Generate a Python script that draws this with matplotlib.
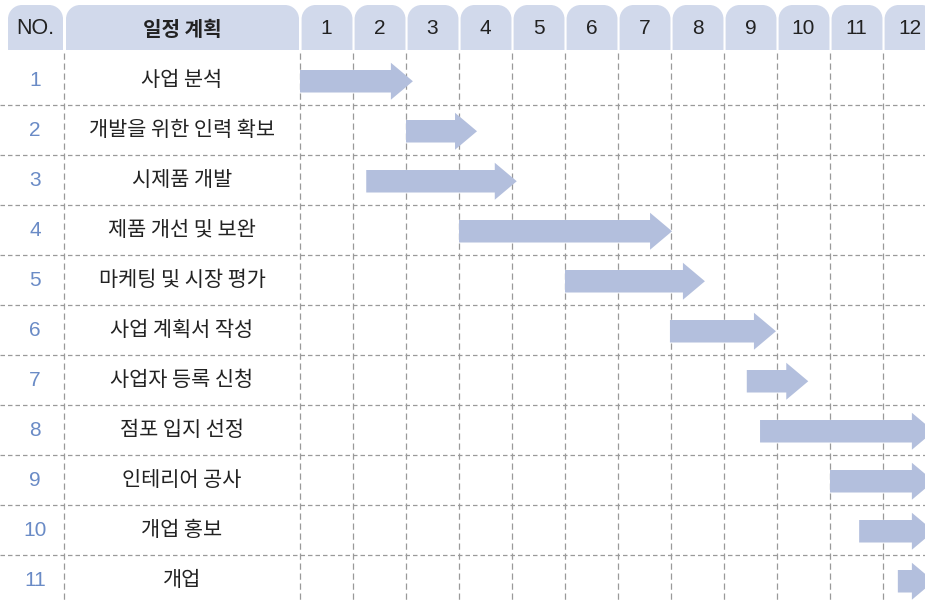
import matplotlib
matplotlib.use('Agg')
import matplotlib.pyplot as plt
from matplotlib.path import Path
from matplotlib.patches import PathPatch, FancyArrow

# ---------------- data ----------------
months = [str(i) for i in range(1, 13)]
task_no = [str(i) for i in range(1, 12)]
tasks = ['사업 분석', '개발을 위한 인력 확보', '시제품 개발', '제품 개선 및 보완',
         '마케팅 및 시장 평가', '사업 계획서 작성', '사업자 등록 신청',
         '점포 입지 선정', '인테리어 공사', '개업 홍보', '개업']
# start / end (arrow tip) in months from the start of month 1
start = [0.0, 2.0, 1.25, 3.0, 5.0, 6.98, 8.43, 8.68, 10.0, 10.55, 11.28]
end = [2.13, 3.34, 4.09, 7.02, 7.64, 8.98, 9.59, 11.96, 11.96, 11.96, 11.96]
header_no = 'NO.'
header_task = '일정 계획'

# ---------------- style ----------------
plt.rcParams['font.family'] = ['Liberation Sans', 'Noto Sans CJK KR', 'DejaVu Sans']
KFONT = ['Noto Sans CJK KR', 'DejaVu Sans']
TAB = '#d1d9eb'
ARROW = '#b3bfdd'
BLUE = '#6a8bc6'
GRID = '#9a9a9a'
TXT = '#222222'

W, H = 925, 602
COL = 53.0   # px per month
ROW = 50.0   # px per row
X0 = 300.0   # px where month grid begins
Y0 = 29.5    # px of row "0" center

def xu(px):
    return (px - X0) / COL

def yu(py):
    return (py - Y0) / ROW

fig = plt.figure(figsize=(W / 100, H / 100), dpi=100)
ax = fig.add_axes([0, 0, 1, 1])
ax.set_xlim(xu(0), xu(W))
ax.set_ylim(yu(H), yu(0))
ax.axis('off')

def tab(x0, x1, yt, yb, r=14.0):
    rx, ry = r / COL, r / ROW
    k = 0.5523
    verts = [(x0, yb), (x0, yt + ry),
             (x0, yt + ry - k * ry), (x0 + rx - k * rx, yt), (x0 + rx, yt),
             (x1 - rx, yt),
             (x1 - rx + k * rx, yt), (x1, yt + ry - k * ry), (x1, yt + ry),
             (x1, yb), (x0, yb)]
    codes = [Path.MOVETO, Path.LINETO,
             Path.CURVE4, Path.CURVE4, Path.CURVE4,
             Path.LINETO,
             Path.CURVE4, Path.CURVE4, Path.CURVE4,
             Path.LINETO, Path.CLOSEPOLY]
    ax.add_patch(PathPatch(Path(verts, codes), facecolor=TAB, edgecolor='none', zorder=1))

yt, yb = yu(5), yu(50)
ymid = yu(29)
n_rows = len(tasks)

# header tabs
tab(xu(8), xu(63), yt, yb)
tab(xu(66), xu(299), yt, yb)
for i, m in enumerate(months):
    tab(i + 0.03, i + 1 - 0.01, yt, yb)
    ax.text(i + 0.5, ymid, m, ha='center', va='center', fontsize=15, color=TXT, zorder=3)
ax.text(xu(35), ymid, header_no, ha='center', va='center', fontsize=15.5, color=TXT, zorder=3)
ax.text(xu(182), ymid, header_task, ha='center', va='center', fontsize=14.5,
        color=TXT, family=KFONT, fontweight='bold', zorder=3)

# grid
dash_h = (0, (3.6, 2.4))
dash_v = (0, (5, 3))
for r in range(1, n_rows):
    ax.plot([xu(0), xu(W)], [r + 0.5, r + 0.5], color=GRID, lw=0.9, linestyle=dash_h, zorder=0)
vlines = [xu(64)] + list(range(0, len(months)))
for v in vlines:
    ax.plot([v, v], [yu(53), yu(H)], color=GRID, lw=0.9, linestyle=dash_v, zorder=0)

# rows
for r, (no, name, s, e) in enumerate(zip(task_no, tasks, start, end), start=1):
    ax.text(xu(35), r + 0.01, no, ha='center', va='center', fontsize=15, color=BLUE, zorder=3)
    ax.text(xu(182), r + 0.01, name, ha='center', va='center', fontsize=15,
            color=TXT, family=KFONT, zorder=3)
    ax.add_patch(FancyArrow(s, r + 0.035, e - s, 0, width=22.5 / ROW,
                            head_width=37 / ROW, head_length=22 / COL,
                            length_includes_head=True, facecolor=ARROW,
                            edgecolor='none', zorder=2))

fig.savefig('out.png', dpi=100, facecolor='white')
